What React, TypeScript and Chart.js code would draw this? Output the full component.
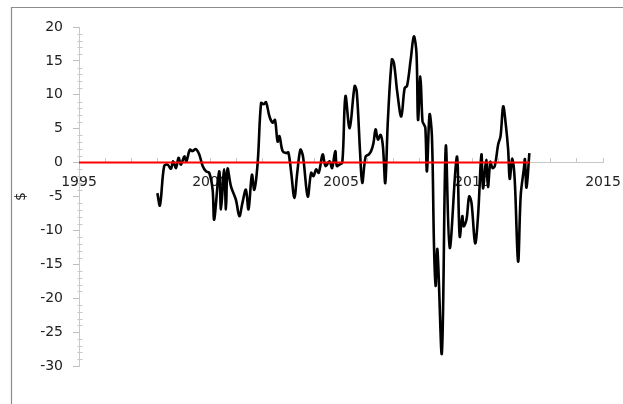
import React, { useEffect, useRef } from "react";
import { Chart, registerables } from "chart.js";

Chart.register(...registerables);

// Black series: decimal year -> value ($)
const years = [
  1997.99, 1998.09, 1998.25, 1998.38, 1998.51, 1998.59, 1998.7, 1998.8, 1998.89, 1999.02,
  1999.1, 1999.23, 1999.33, 1999.46, 1999.59, 1999.72, 1999.85, 1999.97, 2000.1, 2000.16,
  2000.35, 2000.42, 2000.54, 2000.61, 2000.67, 2000.8, 2000.99, 2001.12, 2001.24, 2001.37,
  2001.47, 2001.6, 2001.69, 2001.82, 2001.95, 2002.05, 2002.14, 2002.27, 2002.39, 2002.48,
  2002.58, 2002.65, 2002.77, 2002.9, 2002.99, 2003.1, 2003.22, 2003.33, 2003.45, 2003.55,
  2003.73, 2003.86, 2003.95, 2004.05, 2004.15, 2004.3, 2004.41, 2004.56, 2004.66, 2004.78,
  2004.84, 2004.94, 2005.05, 2005.17, 2005.33, 2005.52, 2005.6, 2005.73, 2005.81, 2005.94,
  2006.06, 2006.15, 2006.24, 2006.32, 2006.41, 2006.51, 2006.6, 2006.69, 2006.79, 2006.94,
  2007.02, 2007.15, 2007.3, 2007.43, 2007.52, 2007.66, 2007.78, 2007.88, 2007.94, 2008.03,
  2008.11, 2008.17, 2008.22, 2008.28, 2008.38, 2008.47, 2008.55, 2008.61, 2008.68, 2008.85,
  2009.0, 2009.15, 2009.42, 2009.53, 2009.63, 2009.68, 2009.79, 2009.89, 2009.98, 2010.12,
  2010.23, 2010.36, 2010.42, 2010.54, 2010.61, 2010.7, 2010.78, 2010.87, 2011.0, 2011.09,
  2011.19, 2011.29, 2011.38, 2011.44, 2011.54, 2011.63, 2011.76, 2011.86, 2011.98, 2012.02,
  2012.08, 2012.19,
];
const values = [
  -4.5, -6.3, -0.5, -0.3, -0.9, 0.2, -0.8, 0.7, -0.3, 0.9,
  0.2, 1.9, 1.7, 2.0, 1.2, -0.5, -1.3, -1.5, -4.0, -8.4,
  -1.3, -6.9, -1.0, -6.9, -0.9, -3.5, -5.5, -7.9, -5.9, -4.0,
  -6.9, -1.8, -4.0, 0.0, 8.8, 8.6, 8.9, 6.8, 5.9, 6.3,
  3.1, 3.9, 1.7, 1.4, 1.5, -1.5, -5.2, -1.5, 1.9, 0.9,
  -5.0, -1.5, -2.0, -1.0, -1.5, 1.2, -0.5, 0.2, -0.8, 1.7,
  -0.5, -0.3, 0.0, 9.8, 5.1, 11.3, 10.5, 1.4, -3.0, 0.9,
  1.2, 1.7, 2.9, 4.9, 3.4, 4.1, 2.4, -3.0, 6.3, 15.2,
  14.7, 10.3, 6.8, 11.0, 11.3, 15.2, 18.6, 16.2, 6.3, 12.7,
  6.1, 5.6, 5.1, -1.3, 7.1, 3.9, -12.3, -18.2, -12.8, -28.1,
  2.4, -12.6, 0.9, -10.9, -7.9, -9.4, -8.4, -5.0, -5.9, -11.9,
  -7.9, 1.2, -3.8, 0.4, -3.6, 0.1, -0.8, -0.5, 2.7, 3.9,
  8.3, 5.6, 1.9, -2.4, 0.6, -2.5, -14.6, -4.8, -0.9, 0.5,
  -3.7, 1.4,
];

// Red zero reference line
const zeroYears = [1995, 2012.2];
const zeroValues = [0, 0];

// Axes
const xMin = 1995;
const xMax = 2015;
const xLabelStep = 5;
const yMin = -30;
const yMax = 20;
const yStep = 5;
const yTitle = "$";

const FONT = "'DejaVu Sans', 'Liberation Sans', Arial, sans-serif";

const framePlugin = {
  id: "frame",
  beforeDraw(chart: any) {
    const { ctx, width, height } = chart;
    ctx.save();
    ctx.fillStyle = "#ffffff";
    ctx.fillRect(0, 0, width, height);
    ctx.strokeStyle = "#8c8c8c";
    ctx.lineWidth = 1.2;
    ctx.beginPath();
    ctx.moveTo(11.5, height + 5);
    ctx.lineTo(11.5, 7.5);
    ctx.lineTo(width + 5, 7.5);
    ctx.stroke();
    ctx.restore();
  },
};

const minorTickPlugin = {
  id: "minorTicks",
  afterDraw(chart: any) {
    const ys = chart.scales.y;
    const { ctx } = chart;
    ctx.save();
    ctx.strokeStyle = "#c8c8c8";
    ctx.lineWidth = 1;
    const ax = Math.round(ys.right) + 0.5;
    for (let v = yMin; v <= yMax; v += 1) {
      if (v % yStep === 0) continue;
      const py = Math.round(ys.getPixelForValue(v)) + 0.5;
      ctx.beginPath();
      ctx.moveTo(ax - 2, py);
      ctx.lineTo(ax + 3, py);
      ctx.stroke();
    }
    ctx.restore();
  },
};

export default function App() {
  const ref = useRef<HTMLCanvasElement | null>(null);

  useEffect(() => {
    if (!ref.current) return;
    const chart = new Chart(ref.current, {
      type: "line",
      data: {
        datasets: [
          {
            label: "zero",
            data: zeroYears.map((x, i) => ({ x, y: zeroValues[i] })),
            borderColor: "#ff0000",
            borderWidth: 2,
            pointRadius: 0,
            tension: 0,
          },
          {
            label: "series",
            data: years.map((x, i) => ({ x, y: values[i] })),
            borderColor: "#000000",
            borderWidth: 2.6,
            pointRadius: 0,
            tension: 0.35,
          },
        ],
      },
      options: {
        responsive: false,
        animation: false,
        events: [],
        layout: { padding: { left: 0, top: 27, right: 20, bottom: 38 } },
        plugins: {
          legend: { display: false },
          tooltip: { enabled: false },
        },
        scales: {
          x: {
            type: "linear",
            min: xMin,
            max: xMax,
            position: { y: 0 } as any,
            afterFit: (s: any) => {
              s.paddingLeft = 0;
              s.paddingRight = 0;
            },
            grid: {
              drawOnChartArea: false,
              drawTicks: true,
              tickLength: -5,
              tickColor: "#c8c8c8",
            },
            border: { display: true, color: "#c8c8c8", width: 1 },
            ticks: {
              stepSize: 1,
              autoSkip: false,
              maxRotation: 0,
              padding: 16,
              color: "#222222",
              font: { family: FONT, size: 14 },
              callback: (v: any) => (Number(v) % xLabelStep === 0 ? String(v) : ""),
            },
          },
          y: {
            type: "linear",
            min: yMin,
            max: yMax,
            position: "left",
            afterFit: (s: any) => {
              s.width = 79;
            },
            grid: {
              drawOnChartArea: false,
              drawTicks: true,
              tickLength: 6,
              tickColor: "#bdbdbd",
            },
            border: { display: true, color: "#c8c8c8", width: 1 },
            ticks: {
              stepSize: yStep,
              padding: 10,
              color: "#222222",
              font: { family: FONT, size: 14 },
            },
            title: {
              display: true,
              text: yTitle,
              color: "#222222",
              font: { family: FONT, size: 14 },
              padding: { top: 13, bottom: 0 },
            },
          },
        },
      },
      plugins: [framePlugin, minorTickPlugin],
    });
    return () => chart.destroy();
  }, []);

  return (
    <div style={{ position: "fixed", left: 0, top: 0, width: 623, height: 404, background: "#fff" }}>
      <canvas ref={ref} width={623} height={404} style={{ display: "block" }} />
    </div>
  );
}
